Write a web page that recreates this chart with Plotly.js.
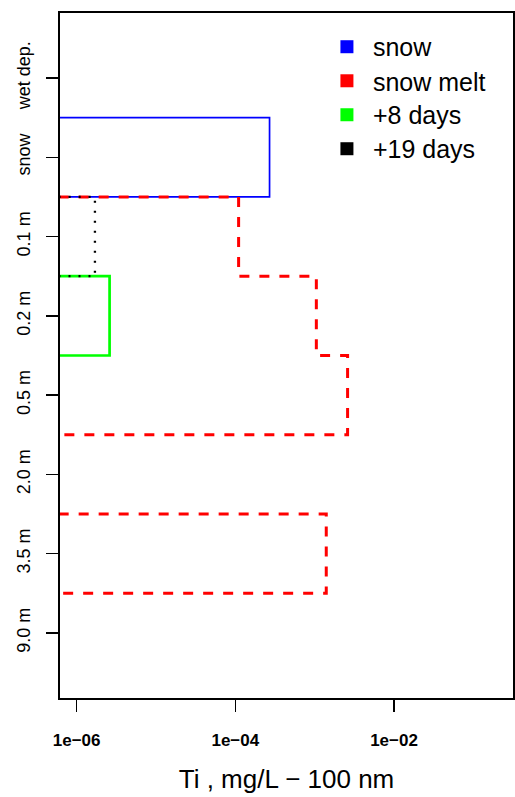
<!DOCTYPE html>
<html>
<head>
<meta charset="utf-8">
<script src="https://cdn.plot.ly/plotly-3.0.1.min.js"></script>
<style>html,body{margin:0;padding:0;background:#fff;}#chart{width:515px;height:797px;}</style>
</head>
<body>
<div id="chart"></div>
<script>
// ---- data ----
const categories = ["wet dep.", "snow", "0.1 m", "0.2 m", "0.5 m", "2.0 m", "3.5 m", "9.0 m"];
const snow      = [null, 2.7e-4, null,   null,    null,   null, null,   null];
const snowMelt  = [null, null,   1.1e-4, 1.05e-3, 2.6e-3, null, 1.4e-3, null];
const days8     = [null, null,   null,   2.6e-6,  null,   null, null,   null];
const days19    = [null, null,   1.7e-6, null,    null,   null, null,   null];
const seriesNames = ["snow", "snow melt", "+8 days", "+19 days"];
const xTickVals = [1e-6, 1e-4, 1e-2];
const xTickText = ["1e\u221206", "1e\u221204", "1e\u221202"];

// baseline far left of the visible range (clipped by the axes)
const BASE = 1e-9;

// build a step outline for runs of consecutive categories
function stepPath(vals) {
  const xs = [], ys = [];
  let i = 0;
  while (i < vals.length) {
    if (vals[i] == null) { i++; continue; }
    const pos0 = i + 1;
    xs.push(BASE); ys.push(pos0 - 0.5);
    while (i < vals.length && vals[i] != null) {
      const p = i + 1;
      xs.push(vals[i]); ys.push(p - 0.5);
      xs.push(vals[i]); ys.push(p + 0.5);
      i++;
    }
    xs.push(BASE); ys.push(i + 0.5);
    xs.push(null); ys.push(null);
  }
  return {x: xs, y: ys};
}

const styles = [
  {color: "#0000FF", width: 1.7, dash: "solid"},
  {color: "#FF0000", width: 3, dash: "10px,10px"},
  {color: "#00FF00", width: 2.7, dash: "solid"},
  {color: "#000000", width: 2.3, dash: "2px,8px"}
];
const allSeries = [snow, snowMelt, days8, days19];
const legendIds = ["legend", "legend2", "legend3", "legend4"];

const traces = [];
allSeries.forEach((s, k) => {
  const p = stepPath(s);
  traces.push({
    x: p.x, y: p.y, type: "scatter", mode: "lines",
    line: {color: styles[k].color, width: styles[k].width, dash: styles[k].dash},
    showlegend: false, hoverinfo: "skip"
  });
});
// legend entries (one small legend per row so rows match the original spacing)
allSeries.forEach((s, k) => {
  traces.push({
    x: [null], y: [null], type: "scatter", mode: "markers",
    name: seriesNames[k], legend: legendIds[k],
    marker: {symbol: "square", size: 13, color: styles[k].color, line: {width: 0}},
    showlegend: true
  });
});

const rowY = [0.9504, 0.9007, 0.8511, 0.8015];
const layout = {
  width: 515, height: 797,
  margin: {l: 60, r: 2, t: 13, b: 99},
  paper_bgcolor: "#fff", plot_bgcolor: "#fff",
  font: {family: "Liberation Sans, Arial, sans-serif", color: "#000"},
  showlegend: true,
  xaxis: {
    type: "log", range: [-6.21, -0.50],
    tickvals: xTickVals, ticktext: xTickText,
    ticks: "outside", ticklen: 12, tickwidth: 1.3, tickcolor: "#000",
    tickfont: {size: 17, family: "Liberation Sans, Arial, sans-serif", weight: "bold"},
    ticklabelstandoff: 14,
    showline: true, linecolor: "#000", linewidth: 1.8, mirror: true,
    showgrid: false, zeroline: false,
    title: {text: "Ti , mg/L \u2212 100 nm", font: {size: 26}, standoff: 20}
  },
  yaxis: {
    range: [8.82, 0.18],
    tickvals: [1, 2, 3, 4, 5, 6, 7, 8], ticktext: categories,
    tickangle: -90,
    ticks: "outside", ticklen: 12, tickwidth: 1.3, tickcolor: "#000",
    tickfont: {size: 18, weight: "normal"},
    ticklabelstandoff: 9,
    showline: true, linecolor: "#000", linewidth: 1.8, mirror: true,
    showgrid: false, zeroline: false
  }
};
legendIds.forEach((id, k) => {
  layout[id] = {
    x: 0.576, y: rowY[k], xanchor: "left", yanchor: "middle",
    font: {size: 25, color: "#000"},
    itemwidth: 42, bgcolor: "rgba(0,0,0,0)", borderwidth: 0
  };
});

Plotly.newPlot("chart", traces, layout, {displayModeBar: false, staticPlot: true});
</script>
</body>
</html>
